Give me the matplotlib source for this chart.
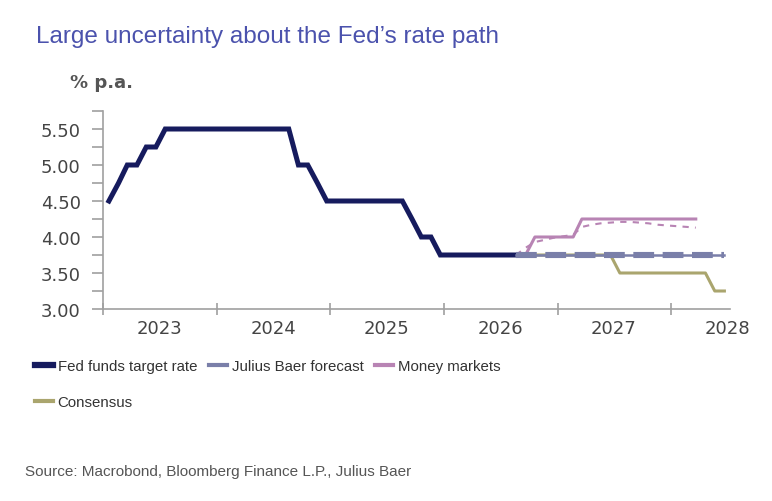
import numpy as np
import pandas as pd
import matplotlib
matplotlib.use('Agg')
import matplotlib.pyplot as plt
import matplotlib.dates as mdates
from matplotlib.lines import Line2D

font = 'Liberation Sans'

# Fed funds target rate (upper bound), monthly from Jan 2023
fed_start = '2023-01-01'
fed_rate = [4.50, 4.75, 5.00, 5.00, 5.25, 5.25, 5.50, 5.50, 5.50, 5.50, 5.50, 5.50,
            5.50, 5.50, 5.50, 5.50, 5.50, 5.50, 5.50, 5.50, 5.00, 5.00, 4.75, 4.50,
            4.50, 4.50, 4.50, 4.50, 4.50, 4.50, 4.50, 4.50, 4.25, 4.00, 4.00, 3.75,
            3.75, 3.75, 3.75, 3.75, 3.75, 3.75, 3.75, 3.75]

# projections, monthly from Aug 2026
proj_start = '2026-08-01'
jb_forecast = [3.75] * 23
money_markets = [3.75, 3.75, 4.00, 4.00, 4.00, 4.00, 4.00,
                 4.25, 4.25, 4.25, 4.25, 4.25, 4.25, 4.25, 4.25, 4.25, 4.25, 4.25, 4.25, 4.25]
money_markets_prev = [3.75, 3.85, 3.93, 3.96, 3.99, 4.01, 4.03, 4.14, 4.17, 4.19,
                      4.20, 4.21, 4.21, 4.20, 4.19, 4.17, 4.16, 4.15, 4.14, 4.13]
consensus = [3.75, 3.75, 3.75, 3.75, 3.75, 3.75, 3.75, 3.75, 3.75, 3.75, 3.75,
             3.50, 3.50, 3.50, 3.50, 3.50, 3.50, 3.50, 3.50, 3.50, 3.50,
             3.25, 3.25]


def months(start, n):
    return pd.date_range(start, periods=n, freq='MS') + pd.Timedelta(days=19)


c_fed = '#161b5e'
c_jb = '#7a7fa9'
c_mm = '#b884b4'
c_con = '#aaa56e'
c_axis = '#a0a0a0'
c_text = '#444444'

fig = plt.figure(figsize=(7.72, 5.02), dpi=100)
ax = fig.add_axes([103 / 772, 1 - 310 / 502, 627 / 772, 198 / 502])

ax.plot(months(fed_start, len(fed_rate)), fed_rate, color=c_fed, lw=3.6,
        solid_joinstyle='miter', zorder=3)
ax.plot(months(proj_start, len(money_markets_prev)), money_markets_prev, color=c_mm,
        lw=1.5, dashes=(3, 3), zorder=2)
ax.plot(months(proj_start, len(money_markets)), money_markets, color=c_mm, lw=2.2, zorder=2)
ax.plot(months(proj_start, len(consensus)), consensus, color=c_con, lw=2.2, zorder=2)
x_jb = months(proj_start, len(jb_forecast))
ax.plot(x_jb, jb_forecast, color=c_jb, lw=1.8, zorder=4)
ax.plot(x_jb, jb_forecast, color=c_jb, lw=4.4, dashes=(3.4, 1.4), zorder=4)

ax.set_xlim(pd.Timestamp('2023-01-01'), pd.Timestamp('2028-07-08'))
ax.set_ylim(3.0, 5.75)

for s in ['top', 'right']:
    ax.spines[s].set_visible(False)
for s in ['left', 'bottom']:
    ax.spines[s].set_color(c_axis)
    ax.spines[s].set_linewidth(1.2)

ax.set_yticks(np.arange(3.0, 5.51, 0.5))
ax.set_yticks(np.arange(3.25, 5.76, 0.5), minor=True)
ax.yaxis.set_major_formatter(matplotlib.ticker.FormatStrFormatter('%.2f'))
ax.tick_params(axis='y', which='both', direction='out', length=8, width=1.2,
               color=c_axis, labelsize=13, labelcolor=c_text, pad=8)

ax.xaxis.set_major_locator(mdates.YearLocator())
ax.xaxis.set_major_formatter(matplotlib.ticker.NullFormatter())
ax.xaxis.set_minor_locator(mdates.MonthLocator(bymonth=7))
ax.xaxis.set_minor_formatter(mdates.DateFormatter('%Y'))
ax.tick_params(axis='x', which='major', direction='inout', length=9, width=1.2, color=c_axis)
ax.tick_params(axis='x', which='minor', length=0, labelsize=13, labelcolor=c_text, pad=7)

fig.text(36 / 772, 1 - 37 / 502, 'Large uncertainty about the Fed\u2019s rate path',
         family=font, fontsize=17.5, color='#4b52ad', va='center')
fig.text(70 / 772, 1 - 83 / 502, '% p.a.', fontsize=13, fontweight='bold',
         color='#555555', va='center')
fig.text(25 / 772, 1 - 472 / 502, 'Source: Macrobond, Bloomberg Finance L.P., Julius Baer',
         family=font, fontsize=11, color='#555555', va='center')

handles = [Line2D([], [], color=c_fed, lw=4.5),
           Line2D([], [], color=c_con, lw=3),
           Line2D([], [], color=c_jb, lw=3),
           Line2D([], [], color=c_mm, lw=3)]
labels = ['Fed funds target rate', 'Consensus', 'Julius Baer forecast', 'Money markets']
fig.legend(handles, labels, ncol=3, loc='upper left', bbox_to_anchor=(35 / 772, 1 - 360 / 502),
           frameon=False, prop={'family': font, 'size': 10.8}, labelcolor='#333333',
           handlelength=1.2, handletextpad=0.3, columnspacing=0.8, labelspacing=1.45,
           borderpad=0, borderaxespad=0)

fig.savefig('out.png', dpi=100)
